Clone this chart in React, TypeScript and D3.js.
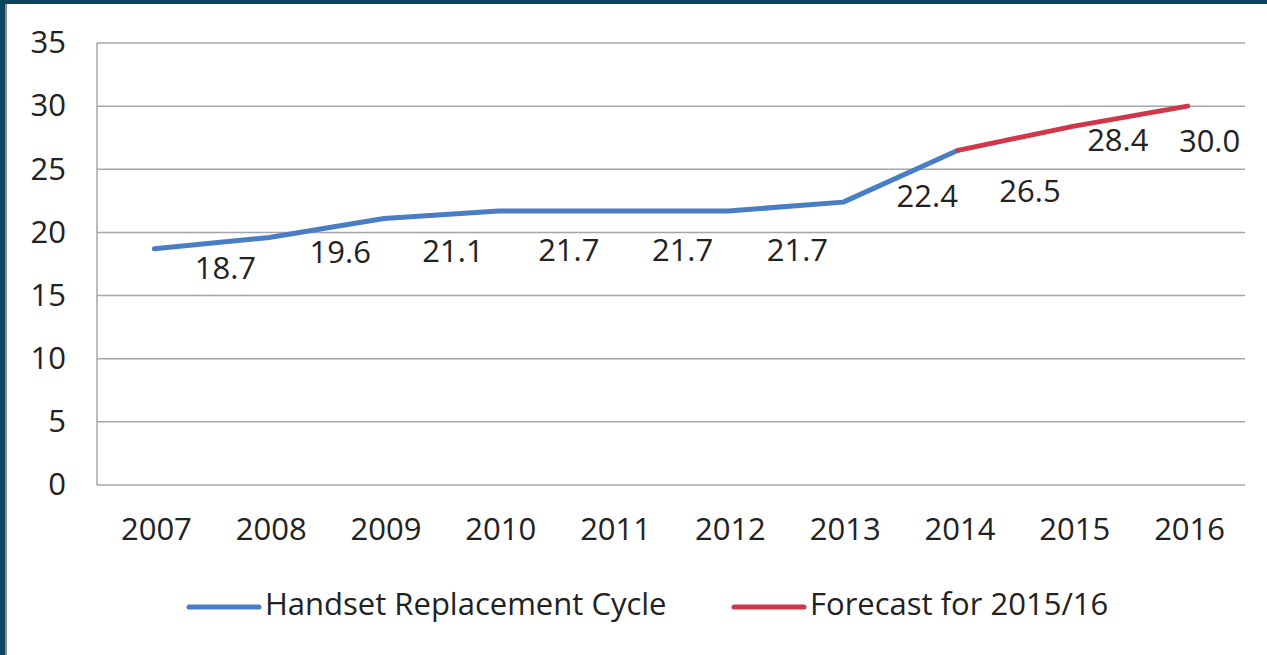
import React from "react";
import * as d3 from "d3";

const years = ["2007", "2008", "2009", "2010", "2011", "2012", "2013", "2014", "2015", "2016"];
const cycleValues = [18.7, 19.6, 21.1, 21.7, 21.7, 21.7, 22.4, 26.5, 28.4, 30.0];
const actualCount = 8; // 2007..2014 actual, 2014..2016 forecast
const yTicks = [0, 5, 10, 15, 20, 25, 30, 35];
const labelOffsets: [number, number][] = [
  [71, 22], [71, 17], [69, 35], [70, 42], [69, 42], [69, 42], [84, -3], [72, 43], [45, 16], [22, 38],
];
const seriesNames = ["Handset Replacement Cycle", "Forecast for 2015/16"];
const seriesColors = ["#4A7EC4", "#D0384A"];

const W = 1267, H = 655;
const m = { left: 97, right: 1245, top: 43, bottom: 485 };
const font = "'Open Sans', sans-serif";
const fs = 31;

export default function App() {
  const x = d3.scaleBand().domain(years).range([m.left, m.right]);
  const y = d3.scaleLinear().domain([0, 35]).range([m.bottom, m.top]);
  const cx = (i: number) => (x(years[i]) as number) + x.bandwidth() / 2;
  const pts = cycleValues.map((v, i) => [cx(i), y(v)] as [number, number]);
  const line = d3.line();
  const actual = pts.slice(0, actualCount);
  const forecast = pts.slice(actualCount - 1);

  return (
    <svg width={W} height={H} style={{ position: "absolute", left: 0, top: 0, background: "#fff" }}>
      <rect x={0} y={0} width={W} height={H} fill="#fff" />
      {yTicks.map((t) => (
        <g key={t}>
          {t > 0 && (
            <line x1={m.left} x2={m.right} y1={y(t)} y2={y(t)} stroke="#A6A6A6" strokeWidth={1.5} />
          )}
          <text x={66} y={y(t) + 2} textAnchor="end" dominantBaseline="middle" fontFamily={font} fontSize={fs} fill="#222">
            {t}
          </text>
        </g>
      ))}
      <line x1={m.left} x2={m.right} y1={m.bottom} y2={m.bottom} stroke="#A6A6A6" strokeWidth={1.5} />
      <line x1={m.left} x2={m.left} y1={m.top} y2={m.bottom} stroke="#A6A6A6" strokeWidth={1.5} />
      {years.map((yr, i) => (
        <text key={yr} x={cx(i) + 2} y={532} textAnchor="middle" dominantBaseline="middle" fontFamily={font} fontSize={fs} fill="#222">
          {yr}
        </text>
      ))}
      <path d={line(actual) || ""} fill="none" stroke={seriesColors[0]} strokeWidth={5} strokeLinejoin="round" strokeLinecap="round" />
      <path d={line(forecast) || ""} fill="none" stroke={seriesColors[1]} strokeWidth={5} strokeLinejoin="round" strokeLinecap="round" />
      {cycleValues.map((v, i) => (
        <text key={i} x={pts[i][0] + labelOffsets[i][0]} y={pts[i][1] + labelOffsets[i][1]} textAnchor="middle" dominantBaseline="middle" fontFamily={font} fontSize={fs} fill="#222">
          {v.toFixed(1)}
        </text>
      ))}
      {seriesNames.map((name, i) => {
        const lx = i === 0 ? 189 : 734;
        return (
          <g key={name}>
            <line x1={lx} x2={lx + 70} y1={607} y2={607} stroke={seriesColors[i]} strokeWidth={5} strokeLinecap="round" />
            <text x={lx + 76} y={607} dominantBaseline="middle" fontFamily={font} fontSize={fs} fill="#222">
              {name}
            </text>
          </g>
        );
      })}
      <rect x={0} y={0} width={W} height={4} fill="#0B4660" />
      <rect x={0} y={0} width={5} height={H} fill="#0B4660" />
      <rect x={5} y={4} width={2} height={H} fill="#8A8F94" />
    </svg>
  );
}
